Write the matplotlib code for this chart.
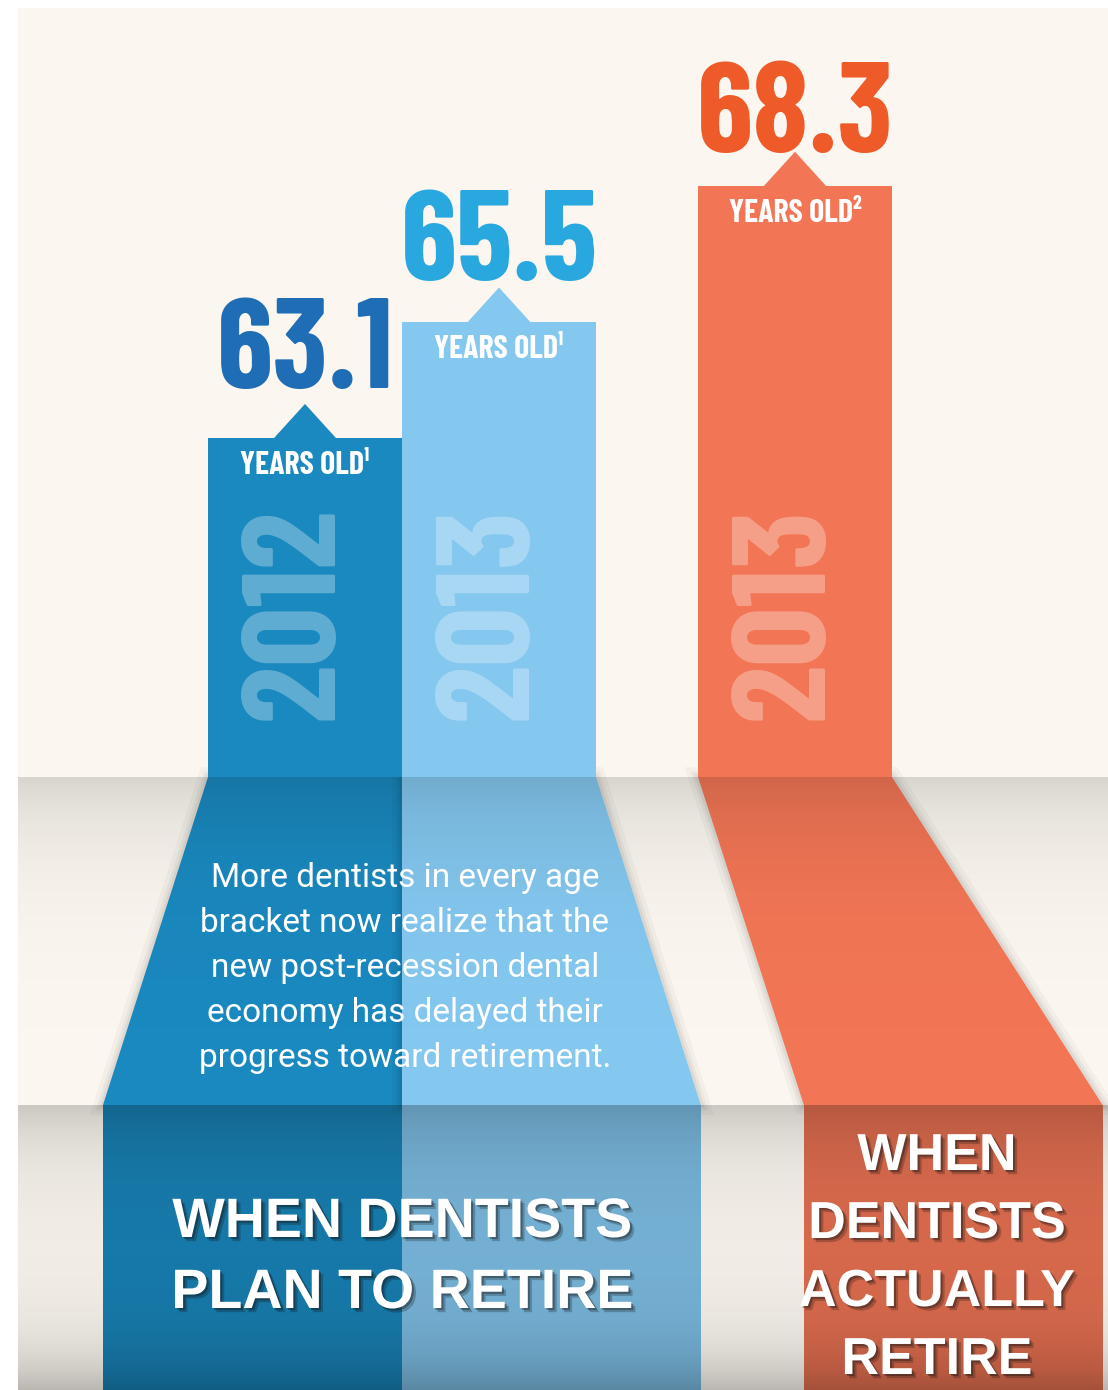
import numpy as np
import matplotlib
matplotlib.use("Agg")
from matplotlib import pyplot as plt
from matplotlib.patches import Polygon, Rectangle
from matplotlib.transforms import blended_transform_factory
import matplotlib.patheffects as pe

# data
values = [63.1, 65.5, 68.3]
value_labels = ["63.1", "65.5", "68.3"]
years = ["2012", "2013", "2013"]
notes = ["\u00b9", "\u00b9", "\u00b2"]
plan_title = ["WHEN DENTISTS", "PLAN TO RETIRE"]
actual_title = ["WHEN", "DENTISTS", "ACTUALLY", "RETIRE"]
blurb = ["More dentists in every age",
         "bracket now realize that the",
         "new post-recession dental",
         "economy has delayed their",
         "progress toward retirement."]

bar_colors = ["#1A89BF", "#84C7EF", "#F27656"]
num_colors = ["#1F6DB4", "#29A8E0", "#EE5A28"]
cream = "#FBF7F0"
cond = ["Barlow Condensed", "Roboto Condensed", "Liberation Sans", "DejaVu Sans"]
sans = ["Liberation Sans", "DejaVu Sans"]

# layout (pixels)
W, H = 1108, 1390
floor_y = 777
band_y = 1105
y_lo, y_hi = 56.11, 72.13   # vertical scale of the bar axes
bar_x = [305, 499, 795]
bar_w = 194
spread = 1.54
vanish = [402, 402, 502]

fig = plt.figure(figsize=(W / 100, H / 100), dpi=100)
fig.patch.set_facecolor("white")

# background axes in pixel units
bg = fig.add_axes([0, 0, 1, 1])
bg.add_patch(Rectangle((18, 8), W - 18, H - 8, color=cream, zorder=0))

# floor: bars stretched in perspective, then lower band
for i in range(3):
    l = bar_x[i] - bar_w / 2
    r = bar_x[i] + bar_w / 2
    c = vanish[i]
    lb = c + (l - c) * spread
    rb = c + (r - c) * spread
    pts = [(l, floor_y), (r, floor_y), (rb, band_y), (lb, band_y)]
    for lw, a in [(14, 0.03), (8, 0.04), (4, 0.05)]:
        bg.add_patch(Polygon(pts, closed=True, fill=False, ec="black", lw=lw,
                             alpha=a, zorder=1))
    bg.add_patch(Polygon(pts, closed=True, color=bar_colors[i], lw=0, zorder=1))
    dark = tuple(np.array(matplotlib.colors.to_rgb(bar_colors[i])) * 0.92)
    bg.add_patch(Rectangle((lb, band_y), rb - lb, H - band_y, color=dark, lw=0, zorder=1))


def shade(y0, y1, alpha):
    img = np.zeros((len(alpha), 1, 4))
    img[..., 3] = alpha[:, None]
    bg.imshow(img, extent=(18, W, y1, y0), aspect="auto", zorder=2,
              interpolation="bilinear")


yy = np.linspace(floor_y, band_y, 300)
shade(floor_y, band_y, 0.14 * np.exp(-(yy - floor_y) / 70))
yy = np.linspace(band_y, H, 300)
shade(band_y, H, 0.17 * np.exp(-(yy - band_y) / 55)
      + 0.24 * np.exp(-(H - yy) / 45) + 0.02)

bg.set_xlim(0, W)
bg.set_ylim(H, 0)
bg.axis("off")

# paragraph
for i, line in enumerate(blurb):
    bg.text(405, 887 + 45 * i, line, ha="center", va="baseline", fontsize=24,
            family=["Roboto", "DejaVu Sans"], color="white", zorder=5)

# group titles
shadow = [pe.SimplePatchShadow(offset=(3, -3), shadow_rgbFace="#111111", alpha=0.25),
          pe.SimplePatchShadow(offset=(1.5, -1.5), shadow_rgbFace="#111111", alpha=0.35),
          pe.Normal()]
for i, line in enumerate(plan_title):
    bg.text(402, 1237 + 71 * i, line, ha="center", va="baseline", fontsize=40,
            fontweight="bold", family=sans, color="white",
            path_effects=shadow, zorder=5)
for i, line in enumerate(actual_title):
    bg.text(937, 1170 + 68 * i, line, ha="center", va="baseline", fontsize=37.5,
            fontweight="bold", family=sans, color="white",
            path_effects=shadow, zorder=5)

# bar axes, from the top of the figure down to the floor line
ax = fig.add_axes([0, 1 - floor_y / H, 1, floor_y / H])
ax.patch.set_alpha(0)
ax.bar(bar_x, np.array(values) - y_lo, bottom=y_lo, width=bar_w,
       color=bar_colors, lw=0, zorder=2)
tri = [(-1, -0.1), (1, -0.1), (0, 1)]
ax.scatter(bar_x, values, marker=tri, s=49 ** 2, c=bar_colors, lw=0, zorder=2)

trans = blended_transform_factory(ax.transData, ax.transAxes)
lift = [36, 30, 24]   # gap between bar top and its number, points
for i in range(3):
    ax.annotate(value_labels[i], (bar_x[i], values[i]), xytext=(0, lift[i]),
                textcoords="offset points", ha="center", va="baseline",
                fontsize=92, fontweight="bold", family=cond, color=num_colors[i])
    ax.annotate("YEARS OLD" + notes[i], (bar_x[i], values[i]), xytext=(0, -20),
                textcoords="offset points", ha="center", va="center",
                fontsize=23, fontweight="bold", family=cond, color="white")
    ax.text(bar_x[i] - 6, 0.21, years[i], transform=trans, rotation=90,
            ha="center", va="center", fontsize=95, fontweight="bold",
            family=cond, color="white", alpha=0.3)

ax.set_xlim(0, W)
ax.set_ylim(y_lo, y_hi)
ax.axis("off")

fig.savefig("out.png", dpi=100)
